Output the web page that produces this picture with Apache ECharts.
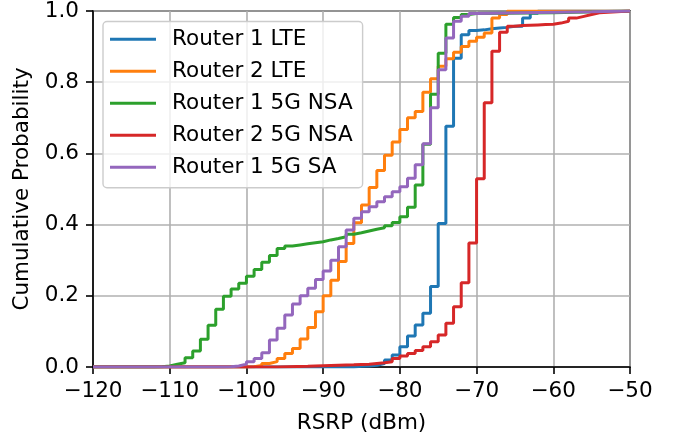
<!DOCTYPE html>
<html>
<head>
<meta charset="utf-8">
<script src="https://cdn.jsdelivr.net/npm/echarts@6/dist/echarts.min.js"></script>
<style>
  html, body { margin: 0; padding: 0; background: #fff; }
  #chart { width: 673px; height: 436px; }
</style>
</head>
<body>
<div id="chart"></div>
<script>
// Empirical CDFs of RSRP per router / radio mode (step jumps at integer dBm)
const seriesNames = ['Router 1 LTE', 'Router 2 LTE', 'Router 1 5G NSA', 'Router 2 5G NSA', 'Router 1 5G SA'];
const seriesColors = ['#1f77b4', '#ff7f0e', '#2ca02c', '#d62728', '#9467bd'];

const r1LteRsrp = [-120, -86, -85, -84, -83, -82, -81, -80, -79, -78, -77, -76, -75, -74, -73, -72, -71, -70, -69, -68, -67, -66, -65, -64, -63, -62, -50];
const r1LteCdf  = [0, 0.002, 0.003, 0.005, 0.010, 0.020, 0.034, 0.057, 0.087, 0.118, 0.151, 0.226, 0.403, 0.676, 0.867, 0.933, 0.945, 0.947, 0.950, 0.952, 0.954, 0.957, 0.957, 0.980, 0.994, 1.0, 1.0];

const r2LteRsrp = [-120, -100, -99, -98, -97, -96, -95, -94, -93, -92, -91, -90, -89, -88, -87, -86, -85, -84, -83, -82, -81, -80, -79, -78, -77, -76, -75, -74, -73, -72, -71, -70, -69, -68, -67, -66, -50];
const r2LteCdf  = [0, 0.001, 0.004, 0.010, 0.015, 0.024, 0.038, 0.052, 0.079, 0.111, 0.155, 0.200, 0.244, 0.296, 0.347, 0.405, 0.455, 0.504, 0.552, 0.595, 0.632, 0.667, 0.700, 0.718, 0.772, 0.810, 0.845, 0.866, 0.884, 0.900, 0.915, 0.926, 0.938, 0.980, 0.990, 1.0, 1.0];

const r1NsaRsrp = [-120, -112, -111, -110, -109, -108, -107, -106, -105, -104, -103, -102, -101, -100, -99, -98, -97, -96, -95, -94, -93, -92, -91, -90, -89, -88, -87, -86, -85, -84, -83, -82, -81, -80, -79, -78, -77, -76, -75, -74, -73, -72, -71, -70, -60, -50];
const r1NsaCdf  = [0, 0.001, 0.003, 0.008, 0.012, 0.026, 0.045, 0.078, 0.117, 0.162, 0.199, 0.219, 0.235, 0.255, 0.274, 0.294, 0.313, 0.333, 0.340, 0.343, 0.346, 0.349, 0.352, 0.357, 0.361, 0.366, 0.373, 0.377, 0.382, 0.387, 0.391, 0.397, 0.406, 0.422, 0.449, 0.511, 0.626, 0.766, 0.881, 0.963, 0.982, 0.990, 0.993, 0.995, 1.0, 1.0];

const r2NsaRsrp = [-120, -96, -92, -89, -86, -84, -83, -82, -81, -80, -79, -78, -77, -76, -75, -74, -73, -72, -71, -70, -69, -68, -67, -66, -65, -64, -63, -62, -61, -60, -59, -58, -57, -56, -55, -54, -50];
const r2NsaCdf  = [0, 0.002, 0.004, 0.006, 0.008, 0.010, 0.012, 0.015, 0.024, 0.031, 0.038, 0.046, 0.057, 0.071, 0.090, 0.123, 0.169, 0.237, 0.348, 0.529, 0.742, 0.887, 0.940, 0.957, 0.959, 0.960, 0.961, 0.962, 0.963, 0.966, 0.971, 0.980, 0.985, 0.990, 0.995, 1.0, 1.0];

const r1SaRsrp = [-120, -103, -102, -101, -100, -99, -98, -97, -96, -95, -94, -93, -92, -91, -90, -89, -88, -87, -86, -85, -84, -83, -82, -81, -80, -79, -78, -77, -76, -75, -74, -73, -72, -71, -70, -62, -55, -50];
const r1SaCdf  = [0, 0.001, 0.003, 0.008, 0.015, 0.024, 0.040, 0.076, 0.109, 0.146, 0.177, 0.200, 0.221, 0.246, 0.270, 0.300, 0.338, 0.385, 0.418, 0.436, 0.450, 0.464, 0.478, 0.492, 0.506, 0.530, 0.568, 0.627, 0.728, 0.835, 0.924, 0.971, 0.985, 0.993, 0.996, 0.998, 1.0, 1.0];

const xTicks = [-120, -110, -100, -90, -80, -70, -60, -50];
const yTicks = [0.0, 0.2, 0.4, 0.6, 0.8, 1.0];

const allRsrp = [r1LteRsrp, r2LteRsrp, r1NsaRsrp, r2NsaRsrp, r1SaRsrp];
const allCdf = [r1LteCdf, r2LteCdf, r1NsaCdf, r2NsaCdf, r1SaCdf];

const FONT = 'DejaVu Sans';
const FS = 21.5;

const chart = echarts.init(document.getElementById('chart'), null, { renderer: 'canvas' });

const series = seriesNames.map((name, i) => ({
  name: name,
  type: 'line',
  step: 'end',
  symbol: 'none',
  data: allRsrp[i].map((x, k) => [x, allCdf[i][k]]),
  lineStyle: { color: seriesColors[i], width: 3 },
  itemStyle: { color: seriesColors[i] },
  animation: false
}));

chart.setOption({
  animation: false,
  textStyle: { fontFamily: FONT },
  grid: {
    left: 93, right: 43, top: 11, bottom: 69,
    containLabel: false,
    outerBoundsMode: 'none',
    show: true, borderColor: '#000', borderWidth: 1.6, backgroundColor: 'transparent'
  },
  legend: {
    orient: 'vertical',
    left: 103, top: 21.5,
    padding: [6.75, 10, 9.5, 7],
    itemGap: 10,
    itemWidth: 46, itemHeight: 3,
    icon: 'rect',
    backgroundColor: 'rgba(255,255,255,0.8)',
    borderColor: '#cccccc', borderWidth: 1.4, borderRadius: 4,
    textStyle: { fontFamily: FONT, fontSize: FS, color: '#000', padding: [0, 0, 0, 11] },
    data: seriesNames
  },
  xAxis: {
    type: 'value',
    min: xTicks[0], max: xTicks[xTicks.length - 1], interval: 10,
    name: 'RSRP (dBm)', nameLocation: 'middle', nameGap: 45,
    nameTextStyle: { fontFamily: FONT, fontSize: FS, color: '#000' },
    axisLine: { show: true, lineStyle: { color: '#000', width: 1.6 } },
    axisTick: { show: true, length: 7, lineStyle: { color: '#000', width: 1.6 } },
    axisLabel: {
      margin: 13, fontFamily: FONT, fontSize: FS, color: '#000',
      formatter: v => (v < 0 ? '\u2212' + Math.abs(v) : String(v))
    },
    splitLine: { show: true, lineStyle: { color: '#b0b0b0', width: 1.6 } }
  },
  yAxis: {
    type: 'value',
    min: yTicks[0], max: yTicks[yTicks.length - 1], interval: 0.2,
    name: 'Cumulative Probability', nameLocation: 'middle', nameGap: 58,
    nameTextStyle: { fontFamily: FONT, fontSize: FS, color: '#000' },
    axisLine: { show: true, lineStyle: { color: '#000', width: 1.6 } },
    axisTick: { show: true, length: 7, lineStyle: { color: '#000', width: 1.6 } },
    axisLabel: {
      margin: 14, fontFamily: FONT, fontSize: FS, color: '#000',
      formatter: v => v.toFixed(1)
    },
    splitLine: { show: true, lineStyle: { color: '#b0b0b0', width: 1.6 } }
  },
  series: series
});
</script>
</body>
</html>
